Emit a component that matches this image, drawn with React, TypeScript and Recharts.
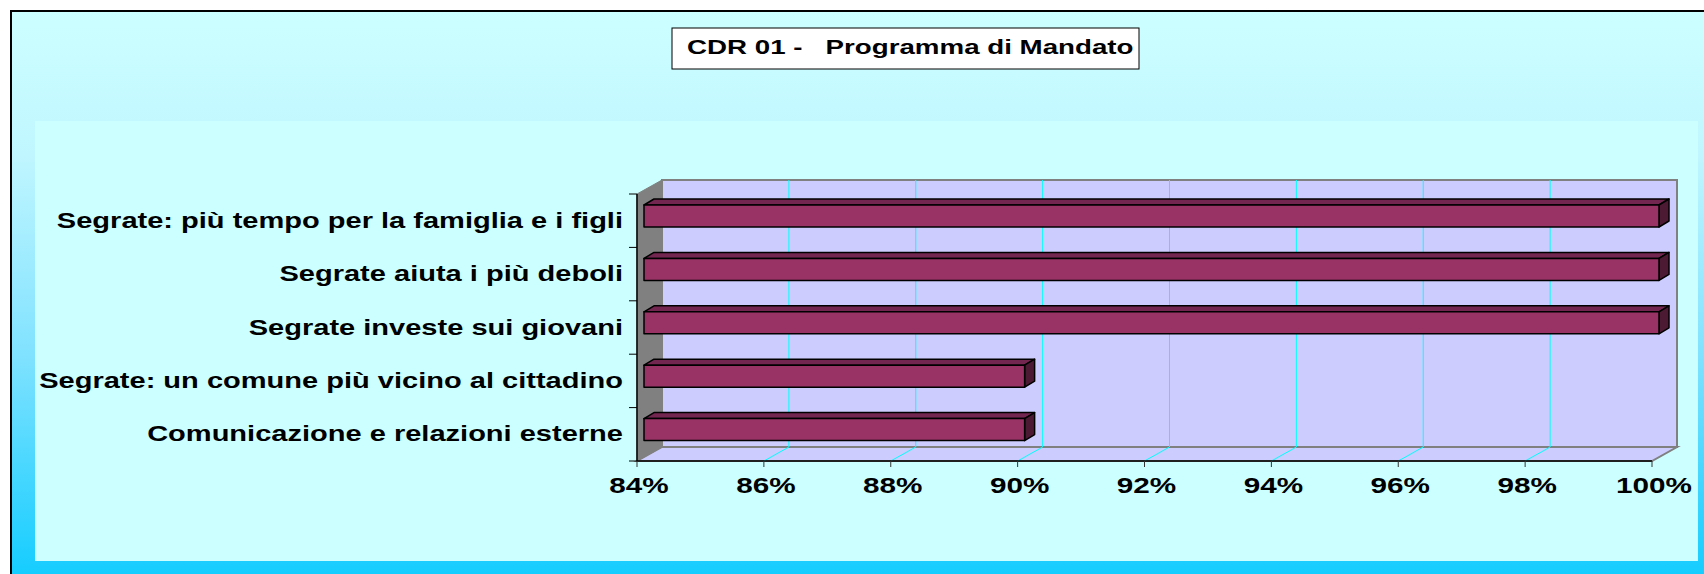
import { BarChart, Bar, XAxis, YAxis, CartesianGrid } from "recharts";

const categories = [
  "Segrate: più tempo per la famiglia e i figli",
  "Segrate aiuta i più deboli",
  "Segrate investe sui giovani",
  "Segrate: un comune più vicino al cittadino",
  "Comunicazione e relazioni esterne",
];
const completion = [1.0, 1.0, 1.0, 0.9, 0.9];
const xTicks = [0.84, 0.86, 0.88, 0.9, 0.92, 0.94, 0.96, 0.98, 1.0];
const title = "CDR 01 -   Programma di Mandato";

const data = categories.map((name, i) => ({ name, value: completion[i] }));

const W = 1704;
const H = 574;
// front plane of the plot
const PL = 637;
const PR = 1652;
const PT = 194;
const PB = 461;
// depth of the walls
const DX = 25;
const DY = -14;
const BAND = (PB - PT) / categories.length;

const FONT = "'Liberation Sans', Arial, sans-serif";
const STRETCH = 1.32;

const BAR_FRONT = "#993366";
const BAR_TOP = "#732650";
const BAR_SIDE = "#4d1a33";
const WALL = "#ccccff";
const EDGE = "#808080";
const GRID = "#00ffff";

function Bar3D(props: { x?: number; y?: number; width?: number; height?: number }) {
  const { x = 0, y = 0, width = 0, height = 0 } = props;
  const fx = x + 7;
  const fy = y - 5;
  const dx = 10;
  const dy = -6;
  const r = fx + width;
  return (
    <g stroke="#000" strokeWidth={1.5} strokeLinejoin="round">
      <polygon points={`${fx},${fy} ${fx + dx},${fy + dy} ${r + dx},${fy + dy} ${r},${fy}`} fill={BAR_TOP} />
      <polygon points={`${r},${fy} ${r + dx},${fy + dy} ${r + dx},${fy + dy + height} ${r},${fy + height}`} fill={BAR_SIDE} />
      <rect x={fx} y={fy} width={width} height={height} fill={BAR_FRONT} />
    </g>
  );
}

function CategoryTick(props: { y?: number; index?: number; payload?: { value: string } }) {
  const { y = 0, index = 0, payload } = props;
  const half = BAND / 2;
  return (
    <g>
      <line x1={PL - 8} x2={PL} y1={y - half} y2={y - half} stroke="#000" />
      {index === categories.length - 1 && (
        <line x1={PL - 8} x2={PL} y1={y + half} y2={y + half} stroke="#000" />
      )}
      <text
        transform={`translate(${PL - 14} ${y + 7}) scale(${STRETCH} 1)`}
        textAnchor="end"
        fontFamily={FONT}
        fontWeight="bold"
        fontSize={22}
        fill="#000"
      >
        {payload?.value}
      </text>
    </g>
  );
}

function PercentTick(props: { x?: number; payload?: { value: number } }) {
  const { x = 0, payload } = props;
  return (
    <text
      transform={`translate(${x + 2} ${PB + 32}) scale(1.35 1)`}
      textAnchor="middle"
      fontFamily={FONT}
      fontWeight="bold"
      fontSize={22}
      fill="#000"
    >
      {Math.round((payload?.value ?? 0) * 100)}%
    </text>
  );
}

function GridLine(p: { x1?: number; index?: number }) {
  const x = p.x1 ?? 0;
  if (x < PL + 2 || x > PR - 2) return <g key={`g-${p.index}`} />;
  return (
    <g key={`g-${p.index}`} stroke={GRID} strokeWidth={1}>
      <line x1={x + DX} x2={x + DX} y1={PT + DY} y2={PB + DY} />
      <line x1={x} x2={x + DX} y1={PB} y2={PB + DY} />
    </g>
  );
}

function Backdrop() {
  return (
    <svg width={W} height={H} style={{ position: "absolute", left: 0, top: 0 }}>
      <defs>
        <linearGradient id="outerBg" x1="0" y1="0" x2="0" y2="1">
          <stop offset="0" stopColor="#ccffff" />
          <stop offset="0.25" stopColor="#c0f6ff" />
          <stop offset="0.6" stopColor="#80e2ff" />
          <stop offset="1" stopColor="#10ccff" />
        </linearGradient>
      </defs>
      <rect x={11} y={11} width={W} height={H} fill="url(#outerBg)" stroke="#000" strokeWidth={2} />
      <rect x={35} y={121} width={1663} height={440} fill="#ccffff" />

      <rect x={672} y={28} width={467} height={41} fill="#fff" stroke="#000" strokeWidth={1} />
      <text
        transform={`translate(687 54) scale(${STRETCH} 1)`}
        fontFamily={FONT}
        fontWeight="bold"
        fontSize={21}
        fill="#000"
        style={{ whiteSpace: "pre" }}
      >
        {title}
      </text>

      {/* back wall */}
      <rect x={PL + DX} y={PT + DY} width={PR - PL} height={PB - PT} fill={WALL} stroke={EDGE} strokeWidth={2} />
      {/* floor */}
      <polygon
        points={`${PL},${PB} ${PR},${PB} ${PR + DX},${PB + DY} ${PL + DX},${PB + DY}`}
        fill={WALL}
        stroke={EDGE}
        strokeWidth={2}
      />
      {/* side wall */}
      <polygon
        points={`${PL},${PT} ${PL + DX},${PT + DY} ${PL + DX},${PB + DY} ${PL},${PB}`}
        fill={EDGE}
        stroke={EDGE}
        strokeWidth={1}
      />
    </svg>
  );
}

export default function App() {
  return (
    <div style={{ position: "absolute", left: 0, top: 0, width: W, height: H, background: "#fff" }}>
      <Backdrop />
      <div style={{ position: "absolute", left: 0, top: 0 }}>
        <BarChart
          width={W}
          height={H}
          data={data}
          layout="vertical"
          margin={{ top: PT, right: W - PR, bottom: H - PB - 40, left: PL - 600 }}
          barSize={22}
        >
          <CartesianGrid horizontal={false} vertical={GridLine} />
          <XAxis
            type="number"
            domain={[0.84, 1]}
            ticks={xTicks}
            height={40}
            axisLine={{ stroke: "#000", strokeWidth: 1.5 }}
            tickLine={{ stroke: "#333" }}
            tickSize={6}
            tick={<PercentTick />}
            interval={0}
          />
          <YAxis
            type="category"
            dataKey="name"
            width={600}
            axisLine={{ stroke: "#000", strokeWidth: 1.5 }}
            tickLine={false}
            tick={<CategoryTick />}
            interval={0}
          />
          <Bar dataKey="value" shape={<Bar3D />} isAnimationActive={false} />
        </BarChart>
      </div>
    </div>
  );
}
